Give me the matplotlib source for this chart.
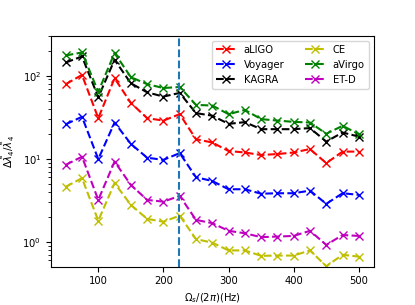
import matplotlib
matplotlib.use('Agg')
import matplotlib.pyplot as plt

# rotation frequencies (Hz)
freqs = [50, 75, 100, 125, 150, 175, 200, 225, 250, 275, 300,
         325, 350, 375, 400, 425, 450, 475, 500]

aligo = [79, 102, 30.8, 93, 47, 30.8, 28.8, 34.4, 17.2, 15.7, 12.4,
         11.9, 11.1, 11.4, 11.9, 13.1, 8.85, 12.2, 12.2]
voyager = [26, 32, 9.9, 27.3, 15.1, 10.3, 9.7, 11.7, 6.0, 5.4, 4.3,
           4.3, 3.8, 3.85, 3.85, 4.14, 2.87, 3.85, 3.68]
kagra = [144, 170, 55, 155, 81, 63, 56, 62, 35.4, 33, 26.3,
         27.6, 22.7, 22.7, 22.7, 23.4, 16.1, 20.7, 18.5]
ce = [4.6, 5.85, 1.8, 5.1, 2.79, 1.89, 1.75, 2.07, 1.08, 0.98, 0.79,
      0.79, 0.68, 0.685, 0.685, 0.79, 0.51, 0.70, 0.665]
avirgo = [175, 190, 64, 187, 96, 79, 71, 73, 44.5, 43.7, 34.4,
          38.7, 30, 28.8, 27.8, 27.3, 20, 24.9, 19.8]
etd = [8.45, 10.6, 3.2, 9.25, 4.85, 3.2, 3.05, 3.58, 1.84, 1.68, 1.36,
       1.27, 1.14, 1.16, 1.18, 1.36, 0.92, 1.21, 1.18]

detectors = ['aLIGO', 'Voyager', 'KAGRA', 'CE', 'aVirgo', 'ET-D']
series = [aligo, voyager, kagra, ce, avirgo, etd]
colors = ['r', 'b', 'k', 'y', 'g', 'm']

marked_freq = 224

plt.rcParams['font.size'] = 7.2

fig, ax = plt.subplots(figsize=(4.15, 3.05), dpi=100)
for name, vals, c in zip(detectors, series, colors):
    ax.plot(freqs, vals, '--x', color=c, label=name, lw=1.5, ms=5.5)

ax.axvline(marked_freq, color='#1f77b4', ls='--', lw=1.5)
ax.set_yscale('log')
ax.set_ylim(0.505, 300)
ax.set_xlim(27.5, 522.5)
ax.set_xlabel(r'$\Omega_s/(2\pi)$(Hz)')
ax.set_ylabel(r'$\Delta\tilde{\lambda}_4/\tilde{\lambda}_4$')
ax.legend(ncol=2, loc='upper right')

plt.subplots_adjust(left=0.123, right=0.9, top=0.882, bottom=0.126)
plt.savefig('out.png', dpi=100)
plt.close()
